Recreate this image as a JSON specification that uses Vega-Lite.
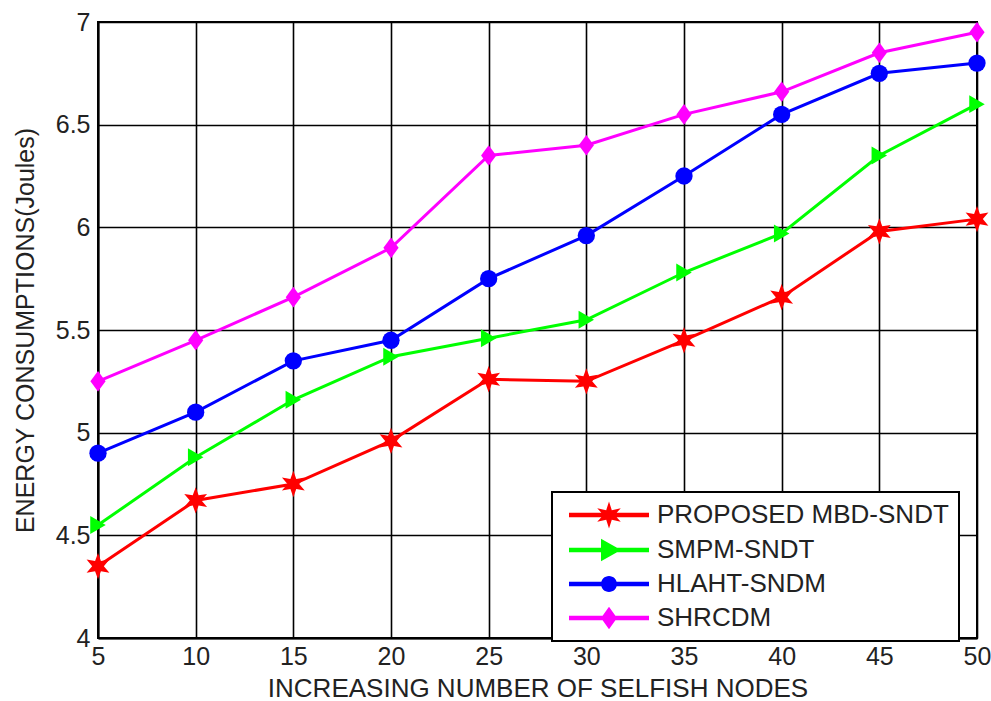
{
  "$schema": "https://vega.github.io/schema/vega-lite/v6.json",
  "width": 879,
  "height": 616,
  "autosize": {"type": "none"},
  "padding": {"left": 98, "top": 22, "right": 14, "bottom": 63},
  "background": "white",
  "config": {
    "font": "Liberation Sans",
    "view": {"stroke": "black", "strokeWidth": 2},
    "axis": {
      "domainColor": "black", "domainWidth": 2,
      "gridColor": "black", "gridOpacity": 1, "gridWidth": 1.6,
      "ticks": false,
      "labelFont": "Liberation Sans", "labelFontSize": 25, "labelColor": "#222",
      "titleFont": "Liberation Sans", "titleFontWeight": "normal", "titleColor": "#222"
    },
    "legend": {
      "orient": "none", "legendX": 454, "legendY": 470,
      "padding": 10, "strokeColor": "black", "strokeWidth": 2, "fillColor": "white",
      "labelFont": "Liberation Sans", "labelFontSize": 26, "labelColor": "#222", "labelLimit": 500,
      "symbolSize": 256, "symbolStrokeWidth": 0, "symbolOpacity": 1,
      "symbolOffset": 34, "labelOffset": 35, "rowPadding": 8, "title": null
    }
  },
  "data": {"values": [
    {"x": 5, "series": "PROPOSED MBD-SNDT", "v": 4.35},
    {"x": 10, "series": "PROPOSED MBD-SNDT", "v": 4.67},
    {"x": 15, "series": "PROPOSED MBD-SNDT", "v": 4.75},
    {"x": 20, "series": "PROPOSED MBD-SNDT", "v": 4.96},
    {"x": 25, "series": "PROPOSED MBD-SNDT", "v": 5.26},
    {"x": 30, "series": "PROPOSED MBD-SNDT", "v": 5.25},
    {"x": 35, "series": "PROPOSED MBD-SNDT", "v": 5.45},
    {"x": 40, "series": "PROPOSED MBD-SNDT", "v": 5.66},
    {"x": 45, "series": "PROPOSED MBD-SNDT", "v": 5.98},
    {"x": 50, "series": "PROPOSED MBD-SNDT", "v": 6.04},
    {"x": 5, "series": "SMPM-SNDT", "v": 4.55},
    {"x": 10, "series": "SMPM-SNDT", "v": 4.88},
    {"x": 15, "series": "SMPM-SNDT", "v": 5.16},
    {"x": 20, "series": "SMPM-SNDT", "v": 5.37},
    {"x": 25, "series": "SMPM-SNDT", "v": 5.46},
    {"x": 30, "series": "SMPM-SNDT", "v": 5.55},
    {"x": 35, "series": "SMPM-SNDT", "v": 5.78},
    {"x": 40, "series": "SMPM-SNDT", "v": 5.97},
    {"x": 45, "series": "SMPM-SNDT", "v": 6.35},
    {"x": 50, "series": "SMPM-SNDT", "v": 6.6},
    {"x": 5, "series": "HLAHT-SNDM", "v": 4.9},
    {"x": 10, "series": "HLAHT-SNDM", "v": 5.1},
    {"x": 15, "series": "HLAHT-SNDM", "v": 5.35},
    {"x": 20, "series": "HLAHT-SNDM", "v": 5.45},
    {"x": 25, "series": "HLAHT-SNDM", "v": 5.75},
    {"x": 30, "series": "HLAHT-SNDM", "v": 5.96},
    {"x": 35, "series": "HLAHT-SNDM", "v": 6.25},
    {"x": 40, "series": "HLAHT-SNDM", "v": 6.55},
    {"x": 45, "series": "HLAHT-SNDM", "v": 6.75},
    {"x": 50, "series": "HLAHT-SNDM", "v": 6.8},
    {"x": 5, "series": "SHRCDM", "v": 5.25},
    {"x": 10, "series": "SHRCDM", "v": 5.45},
    {"x": 15, "series": "SHRCDM", "v": 5.66},
    {"x": 20, "series": "SHRCDM", "v": 5.9},
    {"x": 25, "series": "SHRCDM", "v": 6.35},
    {"x": 30, "series": "SHRCDM", "v": 6.4},
    {"x": 35, "series": "SHRCDM", "v": 6.55},
    {"x": 40, "series": "SHRCDM", "v": 6.66},
    {"x": 45, "series": "SHRCDM", "v": 6.85},
    {"x": 50, "series": "SHRCDM", "v": 6.95}
  ]},
  "encoding": {
    "x": {"field": "x", "type": "quantitative", "scale": {"domain": [5, 50], "nice": false, "zero": false},
      "axis": {"values": [5,10,15,20,25,30,35,40,45,50], "grid": true, "title": "INCREASING NUMBER OF SELFISH NODES", "titleFontSize": 26, "labelPadding": 6, "titlePadding": 6, "labelFlush": false}},
    "y": {"field": "v", "type": "quantitative", "scale": {"domain": [4, 7], "nice": false, "zero": false},
      "axis": {"values": [4,4.5,5,5.5,6,6.5,7], "format": "~g", "grid": true, "title": "ENERGY CONSUMPTIONS(Joules)", "titleFontSize": 25, "labelPadding": 8, "titlePadding": 17, "labelFlush": false}},
    "color": {"field": "series", "type": "nominal",
      "scale": {"domain": ["PROPOSED MBD-SNDT", "SMPM-SNDT", "HLAHT-SNDM", "SHRCDM"], "range": ["#ff0000", "#00ff00", "#0000ff", "#ff00ff"]}}
  },
  "layer": [
    {"mark": {"type": "line", "strokeWidth": 3}},
    {"transform": [{"filter": "datum.series === 'PROPOSED MBD-SNDT'"}],
     "mark": {"type": "point", "filled": true, "opacity": 1, "size": 380,
       "shape": "M0,-1.35L0.3,-0.52L1.17,-0.67L0.6,0L1.17,0.67L0.3,0.52L0,1.35L-0.3,0.52L-1.17,0.67L-0.6,0L-1.17,-0.67L-0.3,-0.52Z"}},
    {"transform": [{"filter": "datum.series === 'SMPM-SNDT'"}],
     "mark": {"type": "point", "filled": true, "opacity": 1, "size": 320, "shape": "triangle-right"}},
    {"transform": [{"filter": "datum.series === 'HLAHT-SNDM'"}],
     "mark": {"type": "point", "filled": true, "opacity": 1, "size": 300, "shape": "circle"}},
    {"transform": [{"filter": "datum.series === 'SHRCDM'"}],
     "mark": {"type": "point", "filled": true, "opacity": 1, "size": 320, "shape": "M0,-1.15L0.85,0L0,1.15L-0.85,0Z"}},
    {"mark": {"type": "point", "filled": true, "opacity": 0, "size": 256},
      "encoding": {
        "shape": {"field": "series", "type": "nominal",
          "scale": {"domain": ["PROPOSED MBD-SNDT", "SMPM-SNDT", "HLAHT-SNDM", "SHRCDM"],
            "range": [
              "M-5,-0.28H5V0.28H-5Z M0,-1.7L0.35,-0.6L1.47,-0.85L0.7,0L1.47,0.85L0.35,0.6L0,1.7L-0.35,0.6L-1.47,0.85L-0.7,0L-1.47,-0.85L-0.35,-0.6Z",
              "M-5,-0.28H5V0.28H-5Z M-1,-1.4L1.5,0L-1,1.4Z",
              "M-5,-0.28H5V0.28H-5Z M-1,0A1,1,0,1,1,1,0A1,1,0,1,1,-1,0Z",
              "M-5,-0.28H5V0.28H-5Z M0,-1.4L1,0L0,1.4L-1,0Z"
            ]}}
      }}
  ]
}
